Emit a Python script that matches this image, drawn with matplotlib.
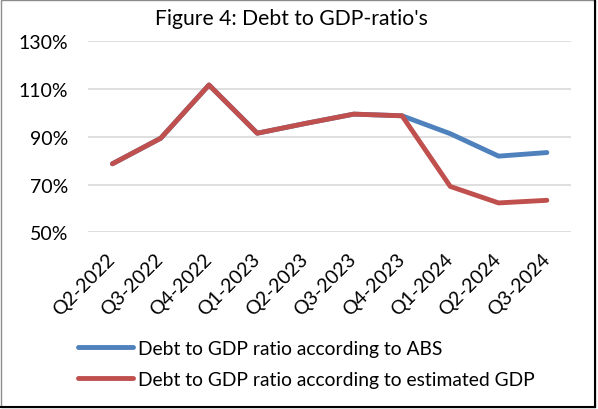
import matplotlib.pyplot as plt
from matplotlib.lines import Line2D
from matplotlib.patches import Rectangle
from matplotlib.ticker import FuncFormatter

plt.rcParams['font.family'] = ['Lato', 'DejaVu Sans']

# Quarterly debt to GDP ratios (%)
quarters = ['Q2-2022', 'Q3-2022', 'Q4-2022', 'Q1-2023', 'Q2-2023',
            'Q3-2023', 'Q4-2023', 'Q1-2024', 'Q2-2024', 'Q3-2024']
ratio_abs = [78.7, 89.4, 111.7, 91.5, 95.6, 99.5, 98.8, 91.3, 81.9, 83.4]
ratio_est = [78.7, 89.4, 111.7, 91.5, 95.6, 99.5, 98.8, 69.2, 62.3, 63.4]
y_ticks = [50, 70, 90, 110, 130]

blue = '#4F81BD'
red = '#C0504D'

fig = plt.figure(figsize=(5.98, 4.10), dpi=100)
ax = fig.add_axes([0.1477, 0.431, 0.8071, 0.4658])

x = range(len(quarters))
ax.plot(x, ratio_abs, color=blue, linewidth=3.5, solid_capstyle='round', solid_joinstyle='round', zorder=3)
ax.plot(x, ratio_est, color=red, linewidth=3.5, solid_capstyle='round', solid_joinstyle='round', zorder=4)

ax.set_xlim(-0.5, len(quarters) - 0.5)
ax.set_ylim(50, 130)
ax.set_yticks(y_ticks)
ax.yaxis.set_major_formatter(FuncFormatter(lambda v, p: f'{v:.0f}%'))
ax.set_xticks(list(x))
ax.set_xticklabels(quarters, rotation=45, ha='right', va='center', rotation_mode='anchor')

ax.grid(True, axis='y', color='#D9D9D9', linewidth=1.2)
ax.set_axisbelow(True)
for s in ax.spines.values():
    s.set_visible(False)
ax.tick_params(axis='both', length=0, labelsize=14, colors='black')
ax.tick_params(axis='y', pad=14.5)
ax.tick_params(axis='x', pad=17)

fig.text(0.4875, 0.939, "Figure 4: Debt to GDP-ratio's", ha='center', va='baseline', fontsize=15.2)

handles = [Line2D([], [], color=blue, linewidth=3.5, solid_capstyle='round'),
           Line2D([], [], color=red, linewidth=3.5, solid_capstyle='round')]
labels = ['Debt to GDP ratio according to ABS',
          'Debt to GDP ratio according to estimated GDP']
fig.legend(handles, labels, loc='center left', bbox_to_anchor=(0.114, 0.11),
           frameon=False, fontsize=13.9, handlelength=2.87, handletextpad=0.24,
           labelspacing=0.75, borderpad=0)

# chart-area frame with a darker right/bottom edge
fig.add_artist(Rectangle((0.6 / 598, 2 / 410), 594.5 / 598, 407.5 / 410, transform=fig.transFigure,
                         fill=False, edgecolor='#8C8C8C', linewidth=1.0))
fig.add_artist(Line2D([595 / 598, 595 / 598], [2 / 410, 1], transform=fig.transFigure,
                      color='black', linewidth=1.5))
fig.add_artist(Line2D([0, 595 / 598], [2 / 410, 2 / 410], transform=fig.transFigure,
                      color='black', linewidth=1.5))

fig.savefig('out.png', dpi=100)
plt.close()
